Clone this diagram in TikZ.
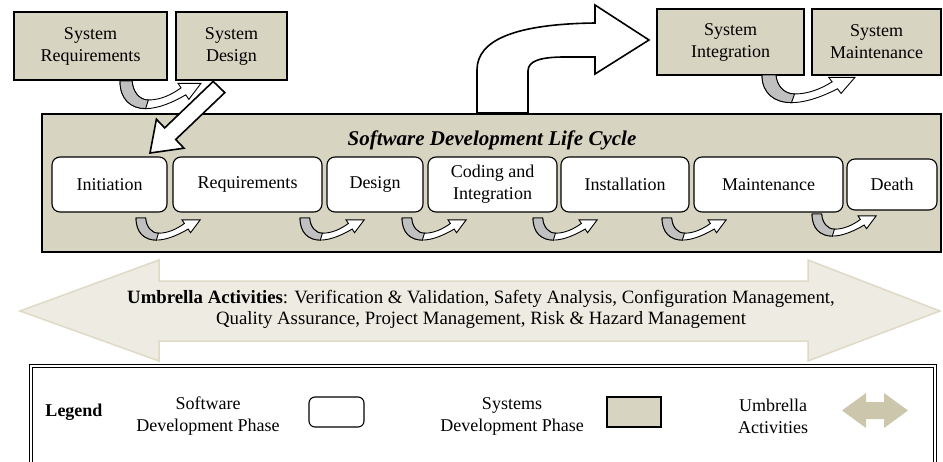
\documentclass[tikz,border=0pt]{standalone}
\usepackage{fontspec}
\setmainfont{Liberation Serif}
\usepackage{tikz}
\usetikzlibrary{positioning}

\definecolor{sysbeige}{RGB}{216,212,194}
\definecolor{umbfill}{RGB}{238,236,226}
\definecolor{umbline}{RGB}{222,218,198}
\definecolor{turngray}{RGB}{192,192,192}
\definecolor{legarrow}{RGB}{203,198,172}

\begin{document}
\begin{tikzpicture}[x=1pt,y=-1pt,
  font=\fontsize{18}{22}\selectfont,
  sysbox/.style={draw,line width=1.6pt,fill=sysbeige,align=center,inner sep=0pt},
  phasebox/.style={draw,line width=1.1pt,fill=white,rounded corners=8pt,align=center,inner sep=0pt},
  blockarrow/.style={draw,line width=1.6pt,fill=white,line join=miter},
  uturn/.pic={
    \filldraw[fill=white,line width=0.9pt] (0,0) .. controls (0,16) and (8,24) .. (19,24) .. controls (29,24) and (40,18) .. (48.75,12) -- (51,16) -- (60,2) -- (43,2) -- (45.25,5.95) .. controls (38,12) and (30,16.5) .. (21,16.5) .. controls (14,16.5) and (9.5,9) .. (9,0) -- cycle;
    \filldraw[fill=turngray,line width=0.9pt] (0,0) .. controls (0,16) and (8,24) .. (19,24) -- (21,16.5) .. controls (14,16.5) and (9.5,9) .. (9,0) -- cycle;
  }]
\useasboundingbox (0,0) rectangle (943,461);

\node[sysbox,minimum width=153pt,minimum height=68pt] at (90.5,46) (sys-req) {System\\Requirements};
\node[sysbox,minimum width=111pt,minimum height=68pt] at (231.5,46) (sys-des) {System\\Design};
\node[sysbox,minimum width=147pt,minimum height=66pt] at (730.5,42) (sys-int) {System\\Integration};
\node[sysbox,minimum width=129pt,minimum height=66pt] at (876.5,42) (sys-mnt) {System\\Maintenance};
\pic[xscale=1.35,yscale=1.15] at (120,81) {uturn};
\pic[xscale=1.55,yscale=1.15] at (762,75) {uturn};

\node[sysbox,minimum width=899pt,minimum height=138pt] at (491.5,183) (sdlc) {};
\node[font=\fontsize{21}{24}\selectfont\bfseries\itshape] at (492,140) (sdlc-title) {Software Development Life Cycle};
\foreach \nm/\cx/\w/\h/\txt in {init/109.5/115/55/Initiation, req/247.5/149/55/Requirements, des/375/96/55/Design, cod/492.5/129/55/{Coding and\\Integration}, ins/625/128/55/Installation, mnt/768.5/149/55/Maintenance, dth/892/90/51/Death}{
  \node[phasebox,minimum width=\w pt,minimum height=\h pt] at (\cx,184.5) (sdlc-\nm) {\txt};
};
\foreach \gx in {136,300,402,533,662}{
  \pic[xscale=1.07,yscale=0.92] at (\gx,218) {uturn};
};
\pic[xscale=1.07,yscale=0.92] at (812,214) {uturn};

\draw[blockarrow] (213.2,81.4) -- (164.7,127.9) -- (156.4,119.2) -- (150,153) -- (184,148.2) -- (175.7,139.5) -- (224.8,92.6) -- cycle;
\draw[blockarrow] (477,113) -- (477,70) .. controls (477,40) and (515,24) .. (595,23) -- (595,5) -- (649,40) -- (595,74) -- (595,57) -- (565,57) .. controls (540,57) and (528,61) .. (528,71) -- (528,113) -- cycle;

\draw[fill=umbfill,draw=umbline,line width=1.5pt] (20,311) -- (159,260) -- (159,281) -- (808,281) -- (808,260) -- (940,311) -- (808,361) -- (808,341) -- (159,341) -- (159,361) -- cycle;
\node[align=center,font=\fontsize{18.8}{20.5}\selectfont] at (481,309.5) (umb-txt) {\textbf{Umbrella Activities}: Verification \& Validation, Safety Analysis, Configuration Management,\\Quality Assurance, Project Management, Risk \& Hazard Management};

\node[overlay,draw,double,double distance=1.5pt,line width=0.8pt,minimum width=904pt,minimum height=114pt] at (483,423) (legend) {};
\node[font=\fontsize{18}{22}\selectfont\bfseries] at (74,412) (leg-title) {Legend};
\node[align=center] at (208,416) (leg-sw-txt) {Software\\Development Phase};
\node[phasebox,minimum width=55pt,minimum height=30pt,rounded corners=6pt] at (336.5,412) (leg-sw) {};
\node[align=center] at (512,416) (leg-sys-txt) {Systems\\Development Phase};
\node[sysbox,minimum width=54pt,minimum height=30pt] at (634,412) (leg-sys) {};
\node[align=center] at (773,416) (leg-umb-txt) {Umbrella\\Activities};
\fill[legarrow] (842,410.5) -- (866,393) -- (866,402) -- (884,402) -- (884,393) -- (908,410.5) -- (884,428) -- (884,419) -- (866,419) -- (866,428) -- cycle;
\end{tikzpicture}
\end{document}
